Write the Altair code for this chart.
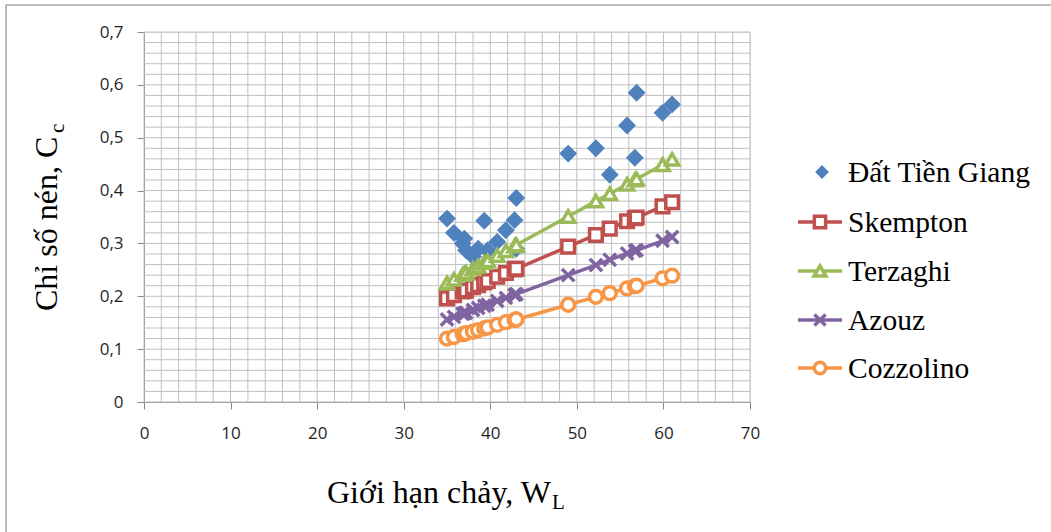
import altair as alt
import pandas as pd
import numpy as np

# ---- data ----
WL = [35.0, 35.8, 36.8, 37.0, 37.2, 38.0, 38.6, 39.3, 39.7, 40.8, 41.8,
      42.8, 43.0, 43.0, 49.0, 52.2, 53.8, 55.8, 56.7, 56.9, 59.9, 61.0]
cc_tien_giang = [0.347, 0.320, 0.300, 0.309, 0.287, 0.275, 0.290, 0.343, 0.287, 0.303, 0.325,
                 0.344, 0.386, 0.290, 0.470, 0.480, 0.430, 0.523, 0.462, 0.585, 0.547, 0.563]
cc_skempton = [0.196, 0.202, 0.209, 0.210, 0.211, 0.217, 0.221, 0.226, 0.229, 0.237, 0.244,
               0.251, 0.252, 0.252, 0.294, 0.316, 0.328, 0.342, 0.348, 0.349, 0.370, 0.378]
cc_terzaghi = [0.225, 0.232, 0.241, 0.243, 0.245, 0.252, 0.257, 0.264, 0.267, 0.277, 0.286,
               0.295, 0.297, 0.297, 0.351, 0.380, 0.394, 0.412, 0.420, 0.422, 0.449, 0.459]
cc_azouz = [0.156, 0.161, 0.167, 0.168, 0.169, 0.174, 0.178, 0.182, 0.184, 0.191, 0.197,
            0.203, 0.204, 0.204, 0.240, 0.259, 0.269, 0.281, 0.286, 0.287, 0.305, 0.312]
cc_cozzolino = [0.120, 0.123, 0.128, 0.129, 0.130, 0.133, 0.136, 0.139, 0.141, 0.146, 0.151,
                0.155, 0.156, 0.156, 0.184, 0.199, 0.206, 0.215, 0.219, 0.220, 0.234, 0.239]

series_names = ["Đất Tiền Giang", "Skempton", "Terzaghi", "Azouz", "Cozzolino"]
x_ticks = [0, 10, 20, 30, 40, 50, 60, 70]
y_ticks = [0, 0.1, 0.2, 0.3, 0.4, 0.5, 0.6, 0.7]
x_minor = list(np.arange(0, 70.1, 2))
y_minor = [round(v, 2) for v in np.arange(0, 0.701, 0.02)]

# ---- layout (pixels) ----
W, H = 606, 370
PL, PT = 144, 32
TOTAL_W, TOTAL_H = 1051, 532

colors = {"Đất Tiền Giang": "#4F81BD", "Skempton": "#C0504D", "Terzaghi": "#9BBB59",
          "Azouz": "#8064A2", "Cozzolino": "#F79646"}
CROSS = "M-1,-1L1,1M-1,1L1,-1"
shapes = {"Skempton": ("square", 160), "Terzaghi": ("triangle-up", 175),
          "Azouz": (CROSS, 155), "Cozzolino": ("circle", 165)}

xs = alt.Scale(domain=[0, 70], nice=False, zero=False)
ys = alt.Scale(domain=[0, 0.7], nice=False, zero=False)

GRID = "#C0C0C0"
AXC = "#868686"
LABEL_FONT = "Open Sans"
SERIF = "Liberation Serif"

x_axis = alt.Axis(values=x_ticks, title=None, grid=False, domainColor=AXC, tickColor=AXC,
                  domainWidth=1, tickWidth=1,
                  tickSize=7, labelPadding=16, labelFont=LABEL_FONT, labelFontSize=17,
                  labelColor="#1F1F1F", labelFlush=False)
y_axis = alt.Axis(values=y_ticks, title=None, grid=False, domainColor=AXC, tickColor=AXC,
                  domainWidth=1, tickWidth=1,
                  tickSize=7, labelPadding=14, labelFont=LABEL_FONT, labelFontSize=17,
                  labelColor="#1F1F1F", labelFlush=False,
                  labelExpr="datum.value == 0 ? '0' : replace(format(datum.value, '.1f'), '.', ',')")


def X(field):
    return alt.X(field, scale=xs, axis=x_axis)


def Y(field):
    return alt.Y(field, scale=ys, axis=y_axis)


# grid
vgrid = alt.Chart(pd.DataFrame({"gx": x_minor})).mark_rule(color=GRID, strokeWidth=1).encode(
    x=X("gx:Q"))
hgrid = alt.Chart(pd.DataFrame({"gy": y_minor})).mark_rule(color=GRID, strokeWidth=1).encode(
    y=Y("gy:Q"))

layers = [vgrid, hgrid]

# observed points
obs = pd.DataFrame({"WL": WL, "Cc": cc_tien_giang})
layers.append(alt.Chart(obs).mark_point(shape="diamond", filled=True, size=320,
                                         color=colors["Đất Tiền Giang"], opacity=1).encode(
    x=X("WL:Q"), y=Y("Cc:Q")))

model_vals = {"Skempton": cc_skempton, "Terzaghi": cc_terzaghi,
              "Azouz": cc_azouz, "Cozzolino": cc_cozzolino}
for name in ["Skempton", "Terzaghi", "Azouz", "Cozzolino"]:
    df = pd.DataFrame({"WL": WL, "Cc": model_vals[name], "i": list(range(len(WL)))})
    shp, sz = shapes[name]
    line = alt.Chart(df).mark_line(color=colors[name], strokeWidth=3.5).encode(
        x=X("WL:Q"), y=Y("Cc:Q"), order="i:Q")
    pts = alt.Chart(df).mark_point(shape=shp, size=sz, fill="white", fillOpacity=1,
                                    stroke=colors[name], strokeWidth=3.5, opacity=1).encode(
        x=X("WL:Q"), y=Y("Cc:Q"))
    layers += [line, pts]

# ---- legend (manual, pixel positions relative to plot origin) ----
leg_y = [140, 190, 239, 288, 336]
LX0, LX1, LXM, LXT = 654, 698, 676, 704
one = pd.DataFrame({"k": [0]})
for name, ly in zip(series_names, leg_y):
    if name == "Đất Tiền Giang":
        layers.append(alt.Chart(one).mark_point(shape="diamond", filled=True, size=190,
                                                 color=colors[name], opacity=1).encode(
            x=alt.value(LXM + 2), y=alt.value(ly)))
    else:
        shp, sz = shapes[name]
        layers.append(alt.Chart(one).mark_rule(color=colors[name], strokeWidth=3.5).encode(
            x=alt.value(LX0), x2=alt.value(LX1), y=alt.value(ly)))
        layers.append(alt.Chart(one).mark_point(shape=shp, size=sz * 0.8, fill="white",
                                                 fillOpacity=1, stroke=colors[name],
                                                 strokeWidth=3.5, opacity=1).encode(
            x=alt.value(LXM), y=alt.value(ly)))
    layers.append(alt.Chart(one).mark_text(text=name, font=SERIF, fontSize=29.5, align="left",
                                           baseline="middle", color="#000000").encode(
        x=alt.value(LXT), y=alt.value(ly + 1)))

# ---- axis titles with subscripts ----
layers.append(alt.Chart(one).mark_text(text="Chỉ số nén, C", font=SERIF, fontSize=32, angle=270,
                                       align="left", baseline="alphabetic", color="#000000").encode(
    x=alt.value(57 - PL), y=alt.value(311 - PT)))
layers.append(alt.Chart(one).mark_text(text="c", font=SERIF, fontSize=21, angle=270,
                                       align="left", baseline="alphabetic", color="#000000").encode(
    x=alt.value(64 - PL), y=alt.value(133 - PT)))
layers.append(alt.Chart(one).mark_text(text="Giới hạn chảy, W", font=SERIF, fontSize=32,
                                       align="left", baseline="alphabetic", color="#000000").encode(
    x=alt.value(327 - PL), y=alt.value(503 - PT)))
layers.append(alt.Chart(one).mark_text(text="L", font=SERIF, fontSize=21,
                                       align="left", baseline="alphabetic", color="#000000").encode(
    x=alt.value(552 - PL), y=alt.value(509 - PT)))

# ---- outer frame (top and left edges) ----
layers.append(alt.Chart(one).mark_rule(color="#A6A6A6", strokeWidth=1.5).encode(
    x=alt.value(6 - PL), x2=alt.value(TOTAL_W - PL), y=alt.value(5 - PT)))
layers.append(alt.Chart(one).mark_rule(color="#A6A6A6", strokeWidth=1.5).encode(
    x=alt.value(6 - PL), y=alt.value(5 - PT), y2=alt.value(TOTAL_H - PT)))

chart = alt.layer(*layers).properties(
    width=W, height=H,
    autosize=alt.AutoSizeParams(type="none"),
    padding={"left": PL, "top": PT, "right": TOTAL_W - PL - W, "bottom": TOTAL_H - PT - H},
).configure_view(stroke=None).configure(background="white")

chart.save("out.html", embed_options={"renderer": "svg", "actions": False})
